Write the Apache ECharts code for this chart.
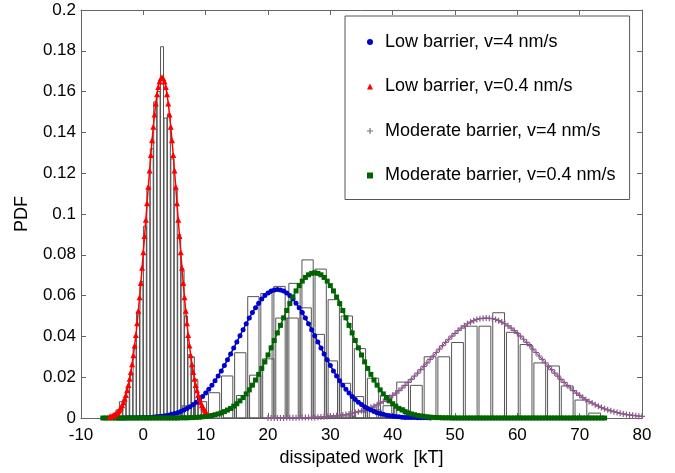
<!DOCTYPE html>
<html>
<head>
<meta charset="utf-8">
<title>PDF of dissipated work</title>
<script src="https://cdn.jsdelivr.net/npm/echarts@6/dist/echarts.min.js"></script>
<style>
html, body { margin: 0; padding: 0; background: #fff; }
#chart { width: 675px; height: 473px; }
</style>
</head>
<body>
<div id="chart"></div>
<script>
// fitted PDF curves, sampled on a regular grid: x = start + step * i
const lowFastStart = -4, lowFastStep = 0.5;
const lowFast = [
  0, 0, 0, 0.0001, 0.0001, 0.0001, 0.0001, 0.0002, 0.0002, 0.0003, 0.0003, 0.0004, 0.0006, 0.0007, 0.0009, 0.0011, 0.0014,
  0.0018, 0.0022, 0.0026, 0.0032, 0.0039, 0.0046, 0.0055, 0.0066, 0.0077, 0.0091, 0.0106, 0.0122, 0.0141, 0.0161, 0.0182,
  0.0206, 0.0231, 0.0257, 0.0285, 0.0314, 0.0343, 0.0373, 0.0403, 0.0433, 0.0462, 0.0490, 0.0517, 0.0541, 0.0563, 0.0583,
  0.0600, 0.0613, 0.0622, 0.0628, 0.0630, 0.0628, 0.0622, 0.0613, 0.0600, 0.0583, 0.0563, 0.0541, 0.0517, 0.0490, 0.0462,
  0.0433, 0.0403, 0.0373, 0.0343, 0.0314, 0.0285, 0.0257, 0.0231, 0.0206, 0.0182, 0.0161, 0.0141, 0.0122, 0.0106, 0.0091,
  0.0077, 0.0066, 0.0055, 0.0046, 0.0039, 0.0032, 0.0026, 0.0022, 0.0018, 0.0014, 0.0011, 0.0009, 0.0007, 0.0006, 0.0004,
  0.0003, 0.0003, 0.0002, 0.0002, 0.0001, 0.0001, 0.0001, 0.0001, 0
];
const lowSlowStart = -5.4, lowSlowStep = 0.2;
const lowSlow = [
  0.0006, 0.0008, 0.0010, 0.0013, 0.0016, 0.0021, 0.0026, 0.0033, 0.0041, 0.0051, 0.0063, 0.0077, 0.0094, 0.0113, 0.0136,
  0.0162, 0.0192, 0.0226, 0.0264, 0.0307, 0.0355, 0.0407, 0.0464, 0.0526, 0.0592, 0.0662, 0.0736, 0.0813, 0.0892, 0.0972,
  0.1053, 0.1134, 0.1213, 0.1289, 0.1361, 0.1428, 0.1488, 0.1542, 0.1587, 0.1623, 0.1649, 0.1665, 0.1670, 0.1665, 0.1649,
  0.1623, 0.1587, 0.1542, 0.1488, 0.1428, 0.1361, 0.1289, 0.1213, 0.1134, 0.1053, 0.0972, 0.0892, 0.0813, 0.0736, 0.0662,
  0.0592, 0.0526, 0.0464, 0.0407, 0.0355, 0.0307, 0.0264, 0.0226, 0.0192, 0.0162, 0.0136, 0.0113, 0.0094, 0.0077, 0.0063,
  0.0051, 0.0041, 0.0033
];
const modFastStart = 20, modFastStep = 0.5;
const modFast = [
  0, 0, 0, 0, 0, 0, 0.0001, 0.0001, 0.0001, 0.0001, 0.0001, 0.0002, 0.0002, 0.0002, 0.0003, 0.0003, 0.0004, 0.0005, 0.0006,
  0.0007, 0.0008, 0.0009, 0.0011, 0.0013, 0.0015, 0.0017, 0.0020, 0.0023, 0.0027, 0.0031, 0.0035, 0.0040, 0.0045, 0.0051,
  0.0058, 0.0065, 0.0073, 0.0081, 0.0090, 0.0100, 0.0111, 0.0122, 0.0134, 0.0147, 0.0160, 0.0175, 0.0189, 0.0205, 0.0220,
  0.0237, 0.0253, 0.0270, 0.0287, 0.0304, 0.0321, 0.0338, 0.0355, 0.0371, 0.0386, 0.0401, 0.0415, 0.0429, 0.0441, 0.0452,
  0.0462, 0.0470, 0.0477, 0.0483, 0.0487, 0.0489, 0.0490, 0.0489, 0.0487, 0.0483, 0.0477, 0.0470, 0.0462, 0.0452, 0.0441,
  0.0429, 0.0415, 0.0401, 0.0386, 0.0371, 0.0355, 0.0338, 0.0321, 0.0304, 0.0287, 0.0270, 0.0253, 0.0237, 0.0220, 0.0205,
  0.0189, 0.0175, 0.0160, 0.0147, 0.0134, 0.0122, 0.0111, 0.0100, 0.0090, 0.0081, 0.0073, 0.0065, 0.0058, 0.0051, 0.0045,
  0.0040, 0.0035, 0.0031, 0.0027, 0.0023, 0.0020, 0.0017, 0.0015, 0.0013, 0.0011, 0.0009, 0.0008
];
const modSlowStart = -6.5, modSlowStep = 0.5;
const modSlow = [
  0, 0, 0, 0, 0, 0, 0, 0, 0, 0, 0, 0, 0, 0, 0, 0, 0, 0, 0, 0, 0, 0, 0, 0, 0,
  0.0001, 0.0001, 0.0001, 0.0002, 0.0002, 0.0003, 0.0004, 0.0006, 0.0008, 0.0010, 0.0012, 0.0016, 0.0020, 0.0025, 0.0031,
  0.0039, 0.0047, 0.0058, 0.0070, 0.0084, 0.0100, 0.0118, 0.0138, 0.0161, 0.0186, 0.0214, 0.0243, 0.0275, 0.0309, 0.0344,
  0.0380, 0.0417, 0.0454, 0.0491, 0.0527, 0.0561, 0.0593, 0.0623, 0.0649, 0.0671, 0.0689, 0.0702, 0.0709, 0.0712, 0.0709,
  0.0702, 0.0689, 0.0671, 0.0649, 0.0623, 0.0593, 0.0561, 0.0527, 0.0491, 0.0454, 0.0417, 0.0380, 0.0344, 0.0309, 0.0275,
  0.0243, 0.0214, 0.0186, 0.0161, 0.0138, 0.0118, 0.0100, 0.0084, 0.0070, 0.0058, 0.0047, 0.0039, 0.0031, 0.0025, 0.0020,
  0.0016, 0.0012, 0.0010, 0.0008, 0.0006, 0.0004, 0.0003, 0.0002, 0.0002, 0.0001, 0.0001, 0.0001,
  0, 0, 0, 0, 0, 0, 0, 0, 0, 0, 0, 0, 0, 0, 0, 0, 0, 0, 0, 0, 0, 0, 0, 0, 0,
  0, 0, 0, 0, 0, 0, 0, 0, 0, 0, 0, 0, 0, 0, 0, 0, 0, 0, 0, 0, 0, 0, 0, 0, 0
];

// histograms: bin centres, bin widths and heights
const lowSlowBinWidth = 0.55;
const lowSlowBins = [-4.15, -3.6, -3.05, -2.5, -1.95, -1.4, -0.85, -0.3, 0.25, 0.8, 1.35, 1.9, 2.45, 3.0, 3.55, 4.1, 4.65,
  5.2, 5.75, 6.3, 6.85, 7.4, 7.95, 8.5, 9.05, 9.6];
const lowSlowHist = [0.004, 0.008, 0.009, 0.015, 0.021, 0.034, 0.052, 0.067, 0.094, 0.112, 0.132, 0.155, 0.160, 0.182,
  0.147, 0.149, 0.127, 0.112, 0.090, 0.072, 0.050, 0.031, 0.030, 0.019, 0.010, 0.004];
const lowFastBinWidth = 2.1;
const lowFastBins = [5.05, 7.15, 9.25, 11.35, 13.45, 15.55, 17.65, 19.75, 21.85, 23.95, 26.05, 28.15, 30.25, 32.35, 34.45,
  36.55, 38.65, 40.75];
const lowFastHist = [0.002, 0.006, 0.008, 0.0124, 0.0206, 0.032, 0.0595, 0.061, 0.0645, 0.049, 0.054, 0.041, 0.028, 0.017,
  0.0105, 0.005, 0.002, 0.001];
const modSlowBinWidth = 2.1;
const modSlowBins = [13.75, 15.85, 17.95, 20.05, 22.15, 24.25, 26.35, 28.45, 30.55, 32.65, 34.75, 36.85, 38.95, 41.05, 43.15];
const modSlowHist = [0.004, 0.011, 0.021, 0.029, 0.049, 0.066, 0.0775, 0.073, 0.058, 0.050, 0.034, 0.0195, 0.011, 0.005, 0.002];
const modFastBinWidth = 2.2;
const modFastBins = [30.6, 32.8, 35.0, 37.2, 39.4, 41.6, 43.8, 46.0, 48.2, 50.4, 52.6, 54.8, 57.0, 59.2, 61.4, 63.6, 65.8,
  68.0, 70.2, 72.4];
const modFastHist = [0.001, 0.001, 0.003, 0.004, 0.006, 0.0176, 0.016, 0.030, 0.030, 0.037, 0.045, 0.045, 0.0516, 0.042,
  0.036, 0.027, 0.0255, 0.0157, 0.0088, 0.0024];

const names = [
  'Low barrier, v=4 nm/s',
  'Low barrier, v=0.4 nm/s',
  'Moderate barrier, v=4 nm/s',
  'Moderate barrier, v=0.4 nm/s'
];

const font = '"Liberation Sans", Arial, sans-serif';
const plus = 'path://M4,0H6V4H10V6H6V10H4V6H0V4H4Z';

function grid(start, step, values) {
  return values.map((v, i) => [+(start + step * i).toFixed(2), v]);
}

function histSeries(centers, heights, binWidth) {
  return {
    type: 'custom',
    silent: true,
    z: 1,
    data: centers.map((c, i) => [c, heights[i]]),
    encode: { x: 0, y: 1 },
    renderItem: function (params, api) {
      let c = api.value(0), h = api.value(1);
      let half = binWidth * 0.43;
      let p0 = api.coord([c - half, h]);
      let p1 = api.coord([c + half, 0]);
      return {
        type: 'rect',
        shape: { x: p0[0], y: p0[1], width: p1[0] - p0[0], height: p1[1] - p0[1] },
        style: { fill: 'rgba(0,0,0,0)', stroke: '#555', lineWidth: 1 }
      };
    }
  };
}

function curve(name, data, color, symbol, size, lineColor, lineWidth) {
  return {
    name: name,
    type: 'line',
    z: 3,
    data: data,
    symbol: symbol,
    symbolSize: size,
    showAllSymbol: true,
    silent: true,
    itemStyle: { color: color },
    lineStyle: { color: lineColor, width: lineWidth },
    animation: false
  };
}

const chart = echarts.init(document.getElementById('chart'));
const axisLine = { show: true, onZero: false, lineStyle: { color: '#666', width: 1 } };
const tick = { show: true, inside: true, length: 5, lineStyle: { color: '#666' } };

chart.setOption({
  animation: false,
  textStyle: { fontFamily: font },
  grid: { left: 81, right: 33, top: 10, bottom: 55 },
  legend: {
    data: [
      { name: names[0], icon: 'circle', itemStyle: { color: '#0000cc' } },
      { name: names[1], icon: 'triangle', itemStyle: { color: '#ff0000' } },
      { name: names[2], icon: plus, itemStyle: { color: '#777' } },
      { name: names[3], icon: 'rect', itemStyle: { color: '#006400' } }
    ],
    orient: 'vertical',
    left: 345,
    top: 16,
    itemWidth: 6,
    itemHeight: 6,
    itemGap: 26.5,
    padding: [17, 14, 15, 22],
    backgroundColor: '#fff',
    borderColor: '#555',
    borderWidth: 1,
    selectedMode: false,
    textStyle: { fontSize: 18, color: '#000', fontFamily: font, padding: [0, 0, 0, 7] }
  },
  xAxis: [
    {
      type: 'value', min: -10, max: 80, interval: 10, position: 'bottom',
      axisLine: axisLine, axisTick: tick, splitLine: { show: false },
      axisLabel: { color: '#000', fontSize: 17, margin: 9 },
      name: 'dissipated work  [kT]', nameLocation: 'middle', nameGap: 31,
      nameTextStyle: { color: '#000', fontSize: 18 }
    },
    {
      type: 'value', min: -10, max: 80, interval: 10, position: 'top',
      axisLine: axisLine, axisTick: tick, splitLine: { show: false }, axisLabel: { show: false }
    }
  ],
  yAxis: [
    {
      type: 'value', min: 0, max: 0.2, interval: 0.02, position: 'left',
      axisLine: axisLine, axisTick: tick, splitLine: { show: false },
      axisLabel: { color: '#000', fontSize: 17, margin: 5 },
      name: 'PDF', nameLocation: 'middle', nameGap: 50, nameRotate: 90,
      nameTextStyle: { color: '#000', fontSize: 18 }
    },
    {
      type: 'value', min: 0, max: 0.2, interval: 0.02, position: 'right',
      axisLine: axisLine, axisTick: tick, splitLine: { show: false }, axisLabel: { show: false }
    }
  ],
  series: [
    histSeries(lowSlowBins, lowSlowHist, lowSlowBinWidth),
    histSeries(lowFastBins, lowFastHist, lowFastBinWidth),
    histSeries(modSlowBins, modSlowHist, modSlowBinWidth),
    histSeries(modFastBins, modFastHist, modFastBinWidth),
    curve(names[2], grid(modFastStart, modFastStep, modFast), '#8a5a8a', plus, 6, '#9b3d9b', 1),
    curve(names[0], grid(lowFastStart, lowFastStep, lowFast), '#0000cc', 'circle', 5, '#0000cc', 1.5),
    curve(names[3], grid(modSlowStart, modSlowStep, modSlow), '#006400', 'rect', 5, '#006400', 1.5),
    curve(names[1], grid(lowSlowStart, lowSlowStep, lowSlow), '#ff0000', 'triangle', 6, '#ff0000', 1.5)
  ]
});
</script>
</body>
</html>
